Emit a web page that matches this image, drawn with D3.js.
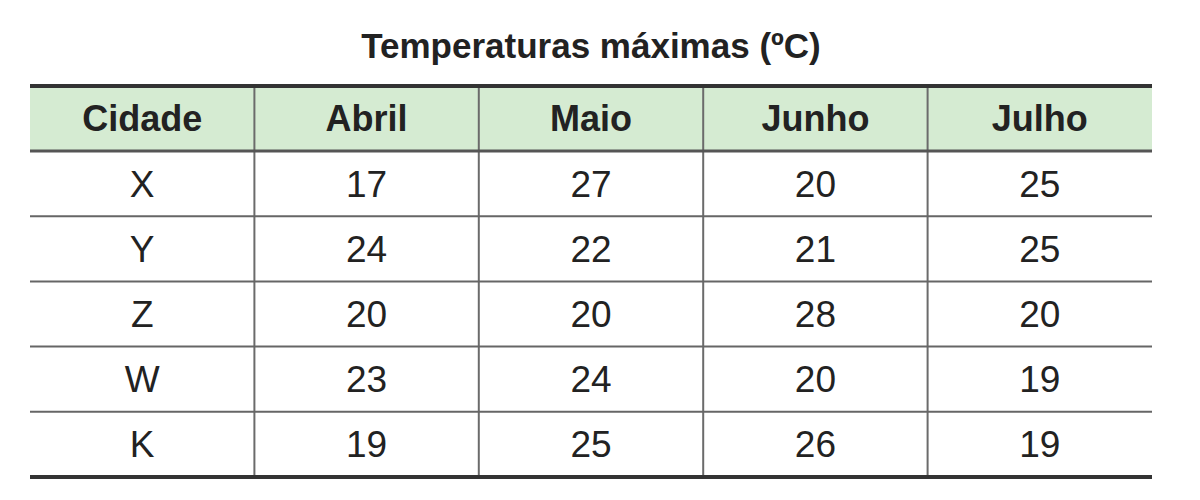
<!DOCTYPE html>
<html><head><meta charset="utf-8">
<script src="https://cdn.jsdelivr.net/npm/d3@7"></script>
<style>body{margin:0;background:#fff}</style></head>
<body><svg id="c" width="1200" height="500"></svg>
<script>
const title = "Temperaturas máximas (ºC)";
const columns = ["Cidade","Abril","Maio","Junho","Julho"];
const cities = ["X","Y","Z","W","K"];
const abril = [17,24,20,23,19];
const maio = [27,22,20,24,25];
const junho = [20,21,28,20,26];
const julho = [25,25,20,19,19];
const rows = cities.map((c,i)=>[c,abril[i],maio[i],junho[i],julho[i]]);

const svg = d3.select("#c");
const font = "Liberation Sans, Arial, sans-serif";
const x = d3.scaleBand().domain(columns).range([30,1152]);
const headerTop = 86, headerBot = 151;
const y = d3.scaleBand().domain(d3.range(rows.length)).range([headerBot,477]);

svg.append("text").attr("x",591).attr("y",58).attr("text-anchor","middle")
  .attr("font-family",font).attr("font-weight","bold").attr("font-size",35).attr("fill","#222").text(title);

svg.append("rect").attr("x",30).attr("y",headerTop).attr("width",1122).attr("height",headerBot-headerTop).attr("fill","#d5ebd2");

// vertical lines
svg.selectAll("line.v").data(columns.slice(1)).join("line")
  .attr("x1",d=>x(d)).attr("x2",d=>x(d)).attr("y1",headerTop).attr("y2",477)
  .attr("stroke","#6b6b6b").attr("stroke-width",2);
// row lines
svg.selectAll("line.h").data(d3.range(1,rows.length)).join("line")
  .attr("x1",30).attr("x2",1152).attr("y1",d=>y(d)).attr("y2",d=>y(d))
  .attr("stroke","#666").attr("stroke-width",2);
svg.append("line").attr("x1",30).attr("x2",1152).attr("y1",headerBot).attr("y2",headerBot).attr("stroke","#555").attr("stroke-width",3);
svg.append("line").attr("x1",30).attr("x2",1152).attr("y1",headerTop).attr("y2",headerTop).attr("stroke","#333").attr("stroke-width",4);
svg.append("line").attr("x1",30).attr("x2",1152).attr("y1",477).attr("y2",477).attr("stroke","#333").attr("stroke-width",4);

svg.selectAll("text.h").data(columns).join("text")
  .attr("x",d=>x(d)+x.bandwidth()/2).attr("y",(headerTop+headerBot)/2+12)
  .attr("text-anchor","middle").attr("font-family",font).attr("font-weight","bold")
  .attr("font-size",36).attr("fill","#222").text(d=>d);

rows.forEach((r,i)=>{
  svg.selectAll(null).data(r).join("text")
    .attr("x",(d,j)=>x(columns[j])+x.bandwidth()/2).attr("y",y(i)+y.bandwidth()/2+13)
    .attr("text-anchor","middle").attr("font-family",font)
    .attr("font-size",37).attr("fill","#222").text(d=>d);
});
</script></body></html>
